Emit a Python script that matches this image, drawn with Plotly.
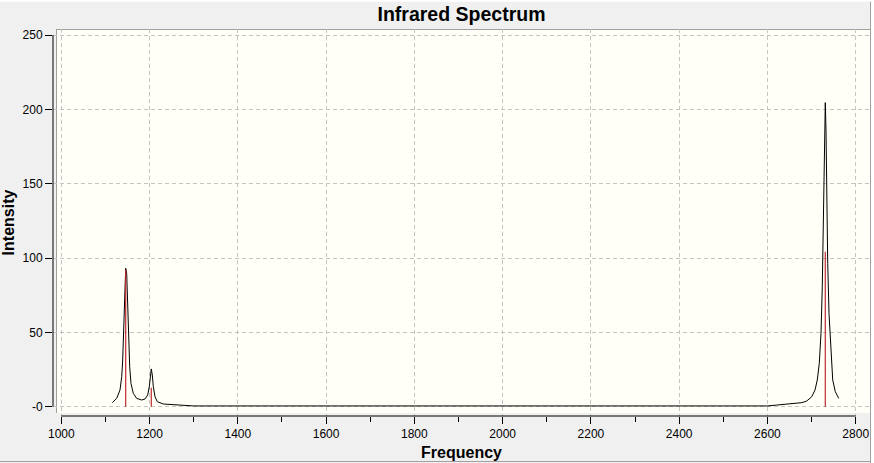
import plotly.graph_objects as go

# Broadened spectrum
curve_freq = [1115.6, 1125.5, 1133.0, 1136.9, 1139.1, 1141.4, 1142.7, 1144.3, 1145.9, 1148.2,
              1149.5, 1151.1, 1152.7, 1155.0, 1157.9, 1163.1, 1170.8, 1182.2, 1189.7, 1195.8,
              1199.4, 1202.6, 1203.9, 1206.2, 1208.5, 1212.3, 1217.5, 1231.1, 1269.0, 1284.0,
              1300.0, 1600.0, 2000.0, 2400.0, 2600.0, 2621.0, 2655.0, 2677.7, 2689.0, 2700.3,
              2707.8, 2713.0, 2717.5, 2721.4, 2724.3, 2726.6, 2728.2, 2729.8, 2731.1, 2732.7,
              2734.3, 2736.6, 2739.5, 2743.4, 2747.9, 2753.8, 2761.5]
curve_int = [2.7, 5.6, 11.2, 20.2, 31.4, 49.4, 69.5, 83.0, 93.1, 89.7,
             76.3, 60.5, 42.6, 26.9, 15.7, 9.0, 5.6, 4.5, 5.2, 7.9,
             13.5, 22.5, 25.4, 21.3, 13.5, 6.7, 3.4, 1.8, 1.1, 0.7,
             0.5, 0.5, 0.5, 0.5, 0.5, 1.1, 1.8, 2.7, 3.8, 6.7,
             11.2, 18.0, 29.2, 49.4, 80.7, 118.8, 159.2, 197.3, 204.5, 186.1,
             141.2, 96.4, 62.8, 38.1, 18.0, 10.1, 5.6]

# Stick (line) spectrum
stick_freq = [1145.9, 1203.9, 2731.1]
stick_int = [92.0, 12.8, 104.2]

x_ticks = [1000, 1200, 1400, 1600, 1800, 2000, 2200, 2400, 2600, 2800]
y_ticks = [0, 50, 100, 150, 200, 250]
y_tick_text = ["-0", "50", "100", "150", "200", "250"]

FONT = "Liberation Sans, Arial, sans-serif"
L, R, T, B = 53, 4, 29, 47
W, H = 874, 463
PW, PH = W - L - R, H - T - B


def px_x(p):
    return (p - L) / PW


def px_y(p):
    return (H - B - p) / PH


stick_x, stick_y = [], []
for f, v in zip(stick_freq, stick_int):
    stick_x += [f, f, None]
    stick_y += [0, v, None]

fig = go.Figure()
fig.add_trace(go.Scatter(x=curve_freq, y=curve_int, mode="lines",
                         line=dict(color="black", width=1), hoverinfo="skip"))
fig.add_trace(go.Scatter(x=stick_x, y=stick_y, mode="lines",
                         line=dict(color="#C0282D", width=1.2), hoverinfo="skip"))

shapes = [
    # cream plotting area
    dict(type="rect", xref="paper", yref="paper", x0=px_x(56), x1=px_x(870), y0=px_y(413), y1=px_y(29),
         fillcolor="#FFFFF7", line=dict(width=0), layer="below"),
    dict(type="line", xref="paper", yref="paper", x0=px_x(56), x1=px_x(870), y0=px_y(29.5), y1=px_y(29.5),
         line=dict(color="#A0A0A0", width=1), layer="below"),
    dict(type="line", xref="paper", yref="paper", x0=px_x(56.5), x1=px_x(56.5), y0=px_y(413), y1=px_y(29),
         line=dict(color="#A0A0A0", width=1), layer="below"),
    # axis lines spanning the tick range only
    dict(type="line", xref="x", yref="paper", x0=x_ticks[0], x1=x_ticks[-1], y0=0, y1=0,
         line=dict(color="black", width=1), layer="above"),
    dict(type="line", xref="paper", yref="y", x0=0, x1=0, y0=y_ticks[0], y1=y_ticks[-1],
         line=dict(color="black", width=1), layer="above"),
    # panel border
    dict(type="line", xref="paper", yref="paper", x0=px_x(870.5), x1=px_x(870.5), y0=px_y(463), y1=px_y(0),
         line=dict(color="#A0A0A0", width=1), layer="above"),
    dict(type="rect", xref="paper", yref="paper", x0=px_x(871), x1=px_x(875), y0=px_y(463), y1=px_y(0),
         fillcolor="white", line=dict(width=0), layer="above"),
    dict(type="line", xref="paper", yref="paper", x0=px_x(0), x1=px_x(871), y0=px_y(461.5), y1=px_y(461.5),
         line=dict(color="#A0A0A0", width=1), layer="above"),
    dict(type="rect", xref="paper", yref="paper", x0=px_x(0), x1=px_x(871), y0=px_y(1.8), y1=px_y(0),
         fillcolor="white", line=dict(width=0), layer="above"),
]

fig.update_layout(
    width=W, height=H,
    margin=dict(l=L, r=R, t=T, b=B, pad=0),
    paper_bgcolor="#F0F0F0",
    plot_bgcolor="rgba(0,0,0,0)",
    showlegend=False,
    font=dict(family=FONT, size=12, color="black"),
    title=dict(text="<b>Infrared Spectrum</b>", font=dict(family=FONT, size=19.5, color="black"),
               x=0.5, xref="paper", xanchor="center", y=1 - 14 / H, yref="container", yanchor="middle"),
    shapes=shapes,
    xaxis=dict(range=[981.2, 2832.4], tickmode="array", tickvals=x_ticks,
               ticks="outside", ticklen=7, tickwidth=1, tickcolor="black",
               showline=False, zeroline=False,
               showgrid=True, gridcolor="#C4C4C4", gridwidth=1, griddash="4px,3px",
               tickfont=dict(family=FONT, size=12, color="black"),
               minor=dict(dtick=100, tick0=1000, ticks="outside", ticklen=5, tickwidth=1,
                          tickcolor="black", showgrid=False),
               title=dict(text="<b>Frequency</b>", font=dict(family=FONT, size=16, color="black"), standoff=6)),
    yaxis=dict(range=[-6.26, 254.04], tickmode="array", tickvals=y_ticks, ticktext=y_tick_text,
               ticks="outside", ticklen=7, tickwidth=1, tickcolor="black",
               showline=False, zeroline=False,
               showgrid=True, gridcolor="#C4C4C4", gridwidth=1, griddash="4px,3px",
               tickfont=dict(family=FONT, size=12, color="black"),
               title=dict(text="<b>Intensity</b>", font=dict(family=FONT, size=16, color="black"), standoff=4)),
)

fig.write_html("out.html", config={"displayModeBar": False},
               post_script="document.body.style.margin='0';document.body.style.overflow='hidden';")
